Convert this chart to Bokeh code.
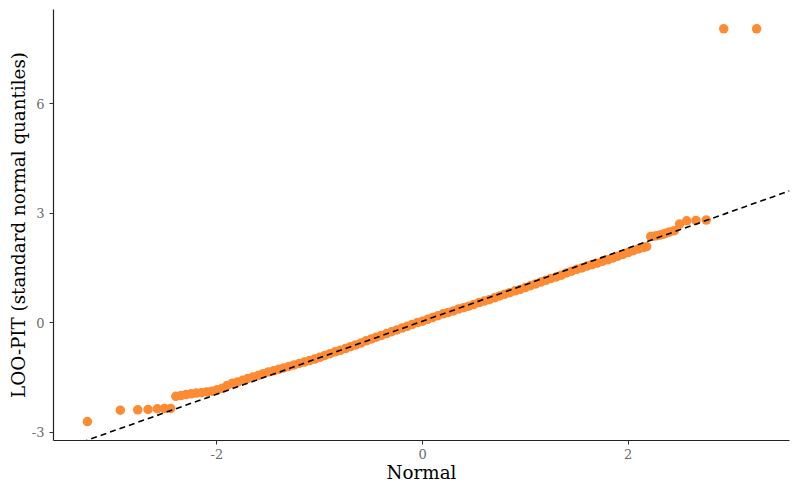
from bokeh.plotting import figure
from bokeh.models import Range1d, FixedTicker, CustomJSTickFormatter
from bokeh.embed import file_html
from bokeh.resources import INLINE

# Theoretical normal quantiles (x) and sorted LOO-PIT normal quantiles (y)
x_low_tail = [-3.26, -2.94, -2.77, -2.67, -2.58, -2.51, -2.45]
y_low_tail = [-2.71, -2.40, -2.39, -2.38, -2.36, -2.35, -2.35]

x_bulk = [-2.40, -2.35, -2.30, -2.25, -2.20, -2.15, -2.10, -2.05, -2.00, -1.95,
          -1.90, -1.85, -1.80, -1.75, -1.70, -1.65, -1.60, -1.55, -1.50, -1.45,
          -1.40, -1.35, -1.30, -1.25, -1.20, -1.15, -1.10, -1.05, -1.00, -0.95,
          -0.90, -0.85, -0.80, -0.75, -0.70, -0.65, -0.60, -0.55, -0.50, -0.45,
          -0.40, -0.35, -0.30, -0.25, -0.20, -0.15, -0.10, -0.05, 0.00, 0.05,
          0.10, 0.15, 0.20, 0.25, 0.30, 0.35, 0.40, 0.45, 0.50, 0.55,
          0.60, 0.65, 0.70, 0.75, 0.80, 0.85, 0.90, 0.95, 1.00, 1.05,
          1.10, 1.15, 1.20, 1.25, 1.30, 1.35, 1.40, 1.45, 1.50, 1.55,
          1.60, 1.65, 1.70, 1.75, 1.80, 1.85, 1.90, 1.95, 2.00, 2.05,
          2.10, 2.15, 2.18]
y_bulk = [-2.02, -2.00, -1.97, -1.95, -1.93, -1.92, -1.90, -1.88, -1.84, -1.80,
          -1.72, -1.66, -1.63, -1.58, -1.53, -1.49, -1.45, -1.40, -1.35, -1.32,
          -1.28, -1.24, -1.20, -1.16, -1.12, -1.08, -1.04, -1.00, -0.95, -0.90,
          -0.85, -0.80, -0.76, -0.71, -0.66, -0.61, -0.56, -0.50, -0.45, -0.40,
          -0.35, -0.30, -0.25, -0.20, -0.15, -0.10, -0.05, 0.00, 0.04, 0.09,
          0.14, 0.19, 0.24, 0.28, 0.32, 0.37, 0.41, 0.45, 0.50, 0.55,
          0.59, 0.63, 0.68, 0.73, 0.78, 0.82, 0.87, 0.91, 0.96, 1.01,
          1.06, 1.11, 1.16, 1.21, 1.25, 1.30, 1.36, 1.41, 1.46, 1.50,
          1.55, 1.59, 1.63, 1.68, 1.72, 1.77, 1.82, 1.87, 1.92, 1.97,
          2.02, 2.06, 2.08]

x_high_tail = [2.22, 2.25, 2.28, 2.31, 2.34, 2.37, 2.40, 2.45, 2.50, 2.57, 2.66, 2.76, 2.93, 3.25]
y_high_tail = [2.36, 2.37, 2.38, 2.40, 2.42, 2.45, 2.48, 2.52, 2.70, 2.79, 2.80, 2.81, 8.05, 8.05]

# Reference line
ref_slope = 1.0
ref_intercept = 0.04

x_ticks = [-2, 0, 2]
y_ticks = [-3, 0, 3, 6]

x_min, x_max = -3.59, 3.57
y_min, y_max = -3.23, 8.58

xs = x_low_tail + x_bulk + x_high_tail
ys = y_low_tail + y_bulk + y_high_tail

p = figure(frame_width=736, frame_height=431,
           x_range=Range1d(x_min, x_max), y_range=Range1d(y_min, y_max),
           output_backend="svg", toolbar_location=None,
           min_border_left=53, min_border_right=8, min_border_top=9, min_border_bottom=50)
p.outline_line_color = None
p.xgrid.visible = False
p.ygrid.visible = False
p.background_fill_color = "white"

p.scatter(xs, ys, size=9.5, fill_color="#fd8b34", line_color=None)
p.line([x_min, x_max], [ref_slope * x_min + ref_intercept, ref_slope * x_max + ref_intercept],
       line_color="black", line_width=1.6, line_dash="6 4")

for ax, ticks in ((p.xaxis, x_ticks), (p.yaxis, y_ticks)):
    ax.ticker = FixedTicker(ticks=ticks)
    ax.formatter = CustomJSTickFormatter(code="return tick.toString();")
    ax.minor_tick_line_color = None
    ax.major_tick_in = 0
    ax.major_tick_out = 4
    ax.major_tick_line_color = "#333333"
    ax.axis_line_color = "#222222"
    ax.axis_line_width = 1.2
    ax.major_label_text_font = "DejaVu Serif"
    ax.major_label_text_font_size = "13px"
    ax.major_label_text_color = "#6b6b6b"
    ax.axis_label_text_font = "DejaVu Serif"
    ax.axis_label_text_font_size = "18.3px"
    ax.axis_label_text_font_style = "normal"
    ax.axis_label_text_color = "black"
    ax.axis_label_standoff = 0

p.xaxis.major_label_standoff = 4
p.yaxis.major_label_standoff = 5

p.xaxis.axis_label = "Normal"
p.yaxis.axis_label = "LOO-PIT (standard normal quantiles)"

open("out.html", "w").write(file_html(p, INLINE))
